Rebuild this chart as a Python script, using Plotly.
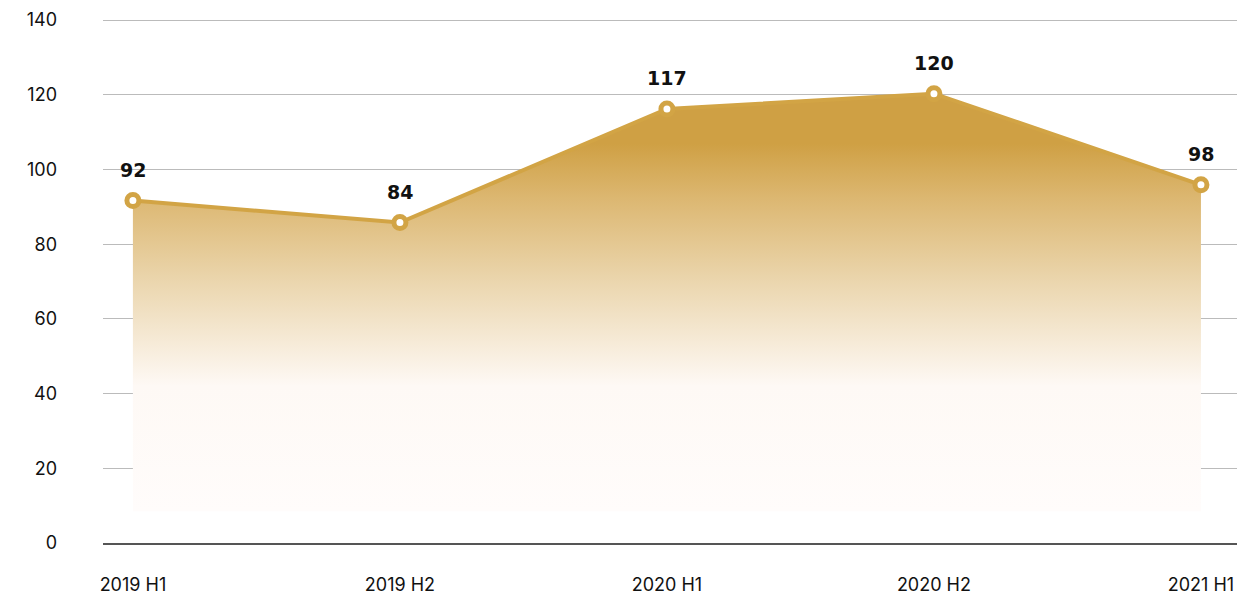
import plotly.graph_objects as go

periods = ["2019 H1", "2019 H2", "2020 H1", "2020 H2", "2021 H1"]
values = [91.7, 85.8, 116.2, 120.3, 95.9]
value_labels = ["92", "84", "117", "120", "98"]
y_ticks = [0, 20, 40, 60, 80, 100, 120, 140]

GOLD = "#D2A445"
FILL_FLOOR = 8.5

fig = go.Figure()

# baseline for the fading fill
fig.add_trace(go.Scatter(
    x=periods, y=[FILL_FLOOR] * len(periods), mode="lines",
    line=dict(width=0, color="rgba(0,0,0,0)"), hoverinfo="skip", showlegend=False,
))
fig.add_trace(go.Scatter(
    x=periods, y=values, mode="lines", fill="tonexty",
    line=dict(width=0, color="rgba(0,0,0,0)"),
    fillgradient=dict(
        type="vertical",
        colorscale=[
            [0.0, "rgba(255,252,251,1)"],
            [0.30, "rgba(254,249,245,1)"],
            [0.55, "rgb(235,214,174)"],
            [0.75, "rgb(220,183,113)"],
            [0.88, "rgb(207,160,68)"],
            [1.0, "rgb(207,160,68)"],
        ],
    ),
    hoverinfo="skip", showlegend=False,
))
fig.add_trace(go.Scatter(
    x=periods, y=values, mode="lines+markers",
    line=dict(width=4, color=GOLD),
    marker=dict(size=12, color="white", line=dict(width=5, color=GOLD)),
    showlegend=False,
))

for p, v, t in zip(periods, values, value_labels):
    fig.add_annotation(
        x=p, y=v, text=f"<b>{t}</b>", showarrow=False, yshift=31,
        font=dict(family="DejaVu Sans", size=19, color="#111"),
    )

# the page body adds an 8px margin, so the figure is offset by 8px
fig.update_layout(
    width=1239, height=586,
    margin=dict(l=95, r=10, t=11, b=51),
    paper_bgcolor="white", plot_bgcolor="white",
    font=dict(family="Inter, Roboto, sans-serif", size=18, color="#111"),
)
fig.update_xaxes(
    type="category", range=[-0.112, 4.135], automargin=False,
    showgrid=False, showline=True, linecolor="#555", linewidth=1.5,
    ticks="", ticklabelstandoff=25, zeroline=False,
)
fig.update_yaxes(
    range=[0, 140.3], tickvals=y_ticks, automargin=False,
    showgrid=True, gridcolor="#bbbbbb", gridwidth=1,
    zeroline=False, showline=False, ticks="", ticklabelstandoff=45,
)

fig.write_html("out.html")
